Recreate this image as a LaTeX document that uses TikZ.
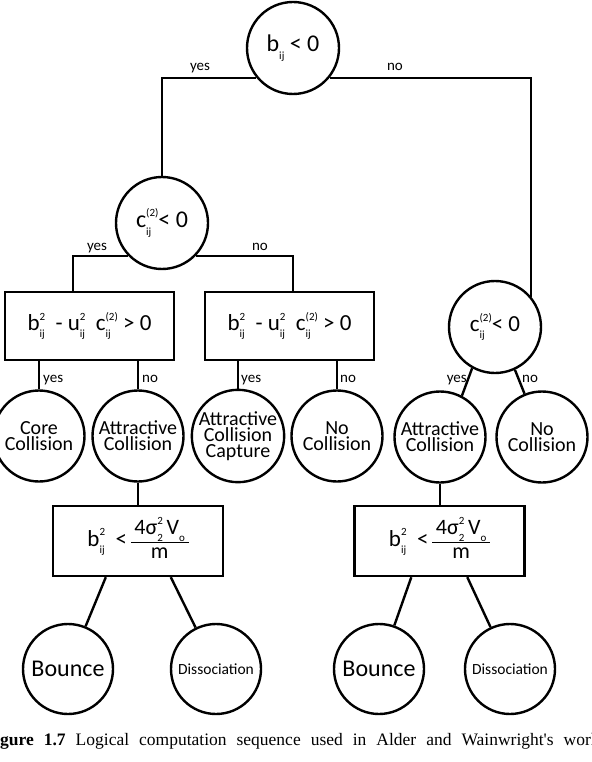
\documentclass[tikz,border=0pt]{standalone}
\usepackage{fontspec}
\setmainfont{Carlito}
\newfontfamily\capfont{Liberation Serif}
\newsavebox\supbox
\newsavebox\subbox
\newlength\ssw
\newcommand\SupSub[2]{\sbox\supbox{\fontsize{11}{11}\selectfont #1}\sbox\subbox{\fontsize{11}{11}\selectfont #2}%
\setlength\ssw{\wd\supbox}\ifdim\wd\subbox>\ssw\setlength\ssw{\wd\subbox}\fi
\makebox[\ssw][l]{\rlap{\raisebox{0.45em}{\usebox\supbox}}\raisebox{-0.32em}{\usebox\subbox}}}
\newcommand\Sub[1]{\raisebox{-0.32em}{\fontsize{11}{11}\selectfont #1}}
\newcommand\Frac[2]{{\setlength\arrayrulewidth{1.3pt}\renewcommand\arraystretch{0.9}\begin{tabular}[c]{@{\,}c@{\,}}#1\\\hline #2\end{tabular}}}
\tikzset{
  dec/.style={circle, draw, line width=2.4pt, minimum size=92pt, inner sep=0pt, align=center},
  leaf/.style={circle, draw, line width=2.4pt, minimum size=91pt, inner sep=0pt, align=center,
    font=\fontsize{20}{16}\selectfont},
  fin/.style={circle, draw, line width=2.4pt, minimum size=90pt, inner sep=0pt, align=center},
  testbox/.style={rectangle, draw, line width=2.4pt, minimum width=169pt, minimum height=68pt, inner sep=0pt},
  lbl/.style={inner sep=0pt, font=\fontsize{15}{15}\selectfont},
  conn/.style={line width=2.4pt}
}
\begin{document}
\begin{tikzpicture}[x=1pt, y=-1pt]
\useasboundingbox (0,0) rectangle (591,762);
\fill[white] (0,0) rectangle (591,762);
\clip (0,0) rectangle (591,762);
% decisions
\node[dec, font=\fontsize{24}{26}\selectfont] (A) at (293,48) {b\Sub{ij} < 0};
\node[dec, font=\fontsize{24}{26}\selectfont] (B) at (162,223) {c\SupSub{(2)}{ij}< 0};
\node[dec, font=\fontsize{23}{26}\selectfont] (C) at (495,327) {c\SupSub{(2)}{ij}< 0};
\node[testbox, font=\fontsize{23}{26}\selectfont] (D1) at (89.5,326) {b\SupSub{2}{ij}\ \ -\ u\SupSub{2}{ij}\ \ c\SupSub{(2)}{ij} > 0};
\node[testbox, font=\fontsize{23}{26}\selectfont] (D2) at (289.5,326) {b\SupSub{2}{ij}\ \ -\ u\SupSub{2}{ij}\ \ c\SupSub{(2)}{ij} > 0};
% outcomes row 2
\node[leaf] (E1) at (39,436) {Core\\Collision};
\node[leaf] (E2) at (138,436) {Attractive\\Collision};
\node[leaf] (E3) at (238,436) {Attractive\\Collision\\Capture};
\node[leaf] (E4) at (337,436) {No\\Collision};
\node[leaf] (E5) at (440,437) {Attractive\\Collision};
\node[leaf] (E6) at (542,437) {No\\Collision};
% boxes row 3
\node[testbox, minimum width=170pt, minimum height=70pt, font=\fontsize{23}{26}\selectfont] (G1) at (138,541)
  {b\SupSub{2}{ij}\ \ <\,{\fontsize{22}{24}\selectfont\Frac{4σ\SupSub{2}{2}\,V\Sub{o}}{m}}};
\node[testbox, minimum width=170pt, minimum height=70pt, font=\fontsize{23}{26}\selectfont] (G2) at (439.5,541)
  {b\SupSub{2}{ij}\ \ <\,{\fontsize{22}{24}\selectfont\Frac{4σ\SupSub{2}{2}\,V\Sub{o}}{m}}};
% final outcomes
\node[fin, font=\fontsize{24}{26}\selectfont] (F1) at (68,669) {Bounce};
\node[fin, font=\fontsize{15.5}{18}\selectfont] (F2) at (216,669) {Dissociation};
\node[fin, font=\fontsize{24}{26}\selectfont] (F3) at (379,669) {Bounce};
\node[fin, font=\fontsize{15.5}{18}\selectfont] (F4) at (510,669) {Dissociation};
% connectors
\draw[conn] (A.219) -| (B);
\draw[conn] (A.321) -| (C.40);
\draw[conn] (B.224) -| ([xshift=69pt]D1.north west);
\draw[conn] (B.316) -| ([xshift=89pt]D2.north west);
\draw[conn] (E1.north |- D1.south) -- (E1);
\draw[conn] (E2.north |- D1.south) -- (E2);
\draw[conn] (E3.north |- D2.south) -- (E3);
\draw[conn] (E4.north |- D2.south) -- (E4);
\draw[conn] (C.241) -- (E5.62);
\draw[conn] (C.295) -- (E6.112);
\draw[conn] (E2) -- (E2 |- G1.north);
\draw[conn] (E5) -- (E5 |- G2.north);
\draw[conn] ([xshift=54pt]G1.south west) -- (F1);
\draw[conn] ([xshift=119pt]G1.south west) -- (F2);
\draw[conn] ([xshift=58pt]G2.south west) -- (F3);
\draw[conn] ([xshift=114pt]G2.south west) -- (F4);
% labels
\node[lbl, anchor=base] (l1) at (200,71) {yes};
\node[lbl, anchor=base] (l2) at (395,71) {no};
\node[lbl, anchor=base] (l3) at (97,250) {yes};
\node[lbl, anchor=base] (l4) at (260,250) {no};
\node[lbl, anchor=base west] (l5) at (43,382) {yes};
\node[lbl, anchor=base west] (l6) at (142,382) {no};
\node[lbl, anchor=base west] (l7) at (241,382) {yes};
\node[lbl, anchor=base west] (l8) at (340,382) {no};
\node[lbl, anchor=base east] (l9) at (467,382) {yes};
\node[lbl, anchor=base west] (l10) at (522,382) {no};
% caption
\node[anchor=base west, inner sep=0pt, font=\capfont\fontsize{17.5}{20}\selectfont] (cap) at (-15.6,745)
  {\makebox[615pt][s]{\textbf{Figure 1.7} Logical computation sequence used in Alder and Wainwright's work}};
\end{tikzpicture}
\end{document}
